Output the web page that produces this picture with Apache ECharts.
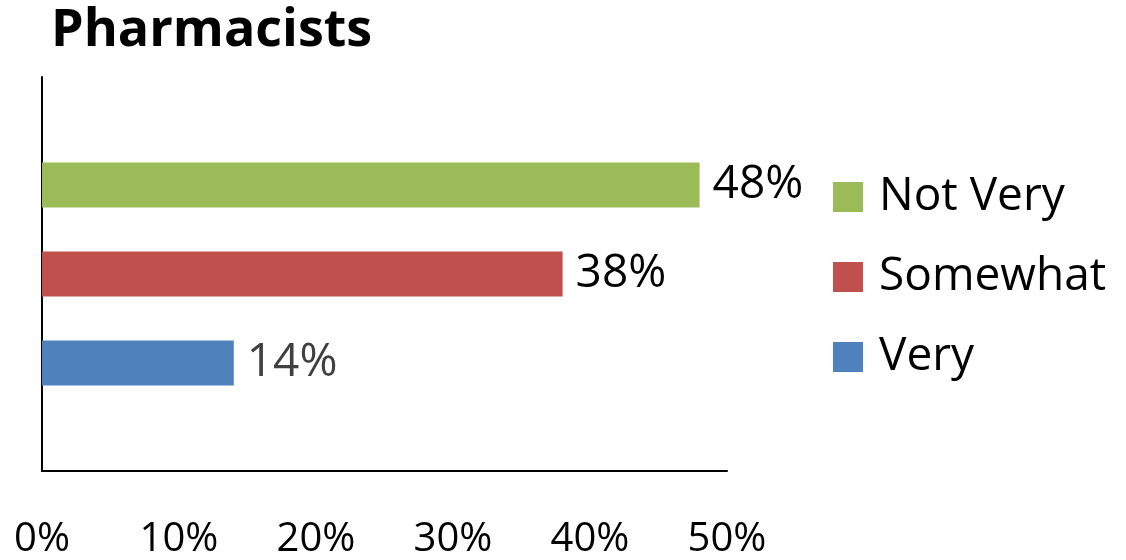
<!DOCTYPE html>
<html>
<head>
<meta charset="utf-8">
<script src="https://cdn.jsdelivr.net/npm/echarts@6/dist/echarts.min.js"></script>
<style>
  html, body { margin: 0; padding: 0; background: #fff; }
  #chart { width: 1126px; height: 560px; }
</style>
</head>
<body>
<div id="chart"></div>
<script>
// Survey answer shares for pharmacists (percent)
const categories = ['Pharmacists'];
const seriesNames = ['Not Very', 'Somewhat', 'Very'];
const notVeryValues = [48];
const somewhatValues = [38];
const veryValues = [14];
const tickValues = [0, 10, 20, 30, 40, 50];

const FONT = '"Open Sans", "Noto Sans", sans-serif';
const colors = { 'Very': '#4F81BD', 'Somewhat': '#C0504D', 'Not Very': '#9BBB59' };
const labelColors = { 'Very': '#404040', 'Somewhat': '#000', 'Not Very': '#000' };
const valuesByName = { 'Very': veryValues, 'Somewhat': somewhatValues, 'Not Very': notVeryValues };

const chart = echarts.init(document.getElementById('chart'));

chart.setOption({
  animation: false,
  backgroundColor: '#fff',
  title: {
    text: categories[0],
    left: 46,
    top: 0,
    textStyle: { fontFamily: FONT, fontWeight: 'bold', fontSize: 52, color: '#000' }
  },
  legend: {
    orient: 'vertical',
    left: 833,
    top: 174,
    padding: 0,
    itemWidth: 30,
    itemHeight: 30,
    itemGap: 34,
    icon: 'rect',
    data: seriesNames,
    textStyle: { fontFamily: FONT, fontSize: 46, color: '#000', padding: [0, 0, 0, 11] }
  },
  grid: { left: 42, right: 399, top: 77, bottom: 81, containLabel: false },
  xAxis: {
    type: 'value',
    min: tickValues[0],
    max: tickValues[tickValues.length - 1],
    interval: 10,
    axisLine: { show: true, lineStyle: { color: '#000', width: 2 } },
    axisTick: { show: false },
    splitLine: { show: false },
    axisLabel: {
      margin: 49,
      fontFamily: FONT,
      fontSize: 40,
      color: '#000',
      formatter: v => v + '%'
    }
  },
  yAxis: {
    type: 'category',
    data: categories,
    axisLine: { show: true, lineStyle: { color: '#000', width: 2 } },
    axisTick: { show: false },
    axisLabel: { show: false }
  },
  series: seriesNames.map(name => ({
    name: name,
    type: 'bar',
    data: valuesByName[name],
    barWidth: 45,
    barGap: '98%',
    itemStyle: { color: colors[name] },
    label: {
      show: true,
      position: 'right',
      distance: 13,
      fontFamily: FONT,
      fontSize: 46,
      color: labelColors[name],
      formatter: p => p.value + '%'
    }
  }))
});
</script>
</body>
</html>
